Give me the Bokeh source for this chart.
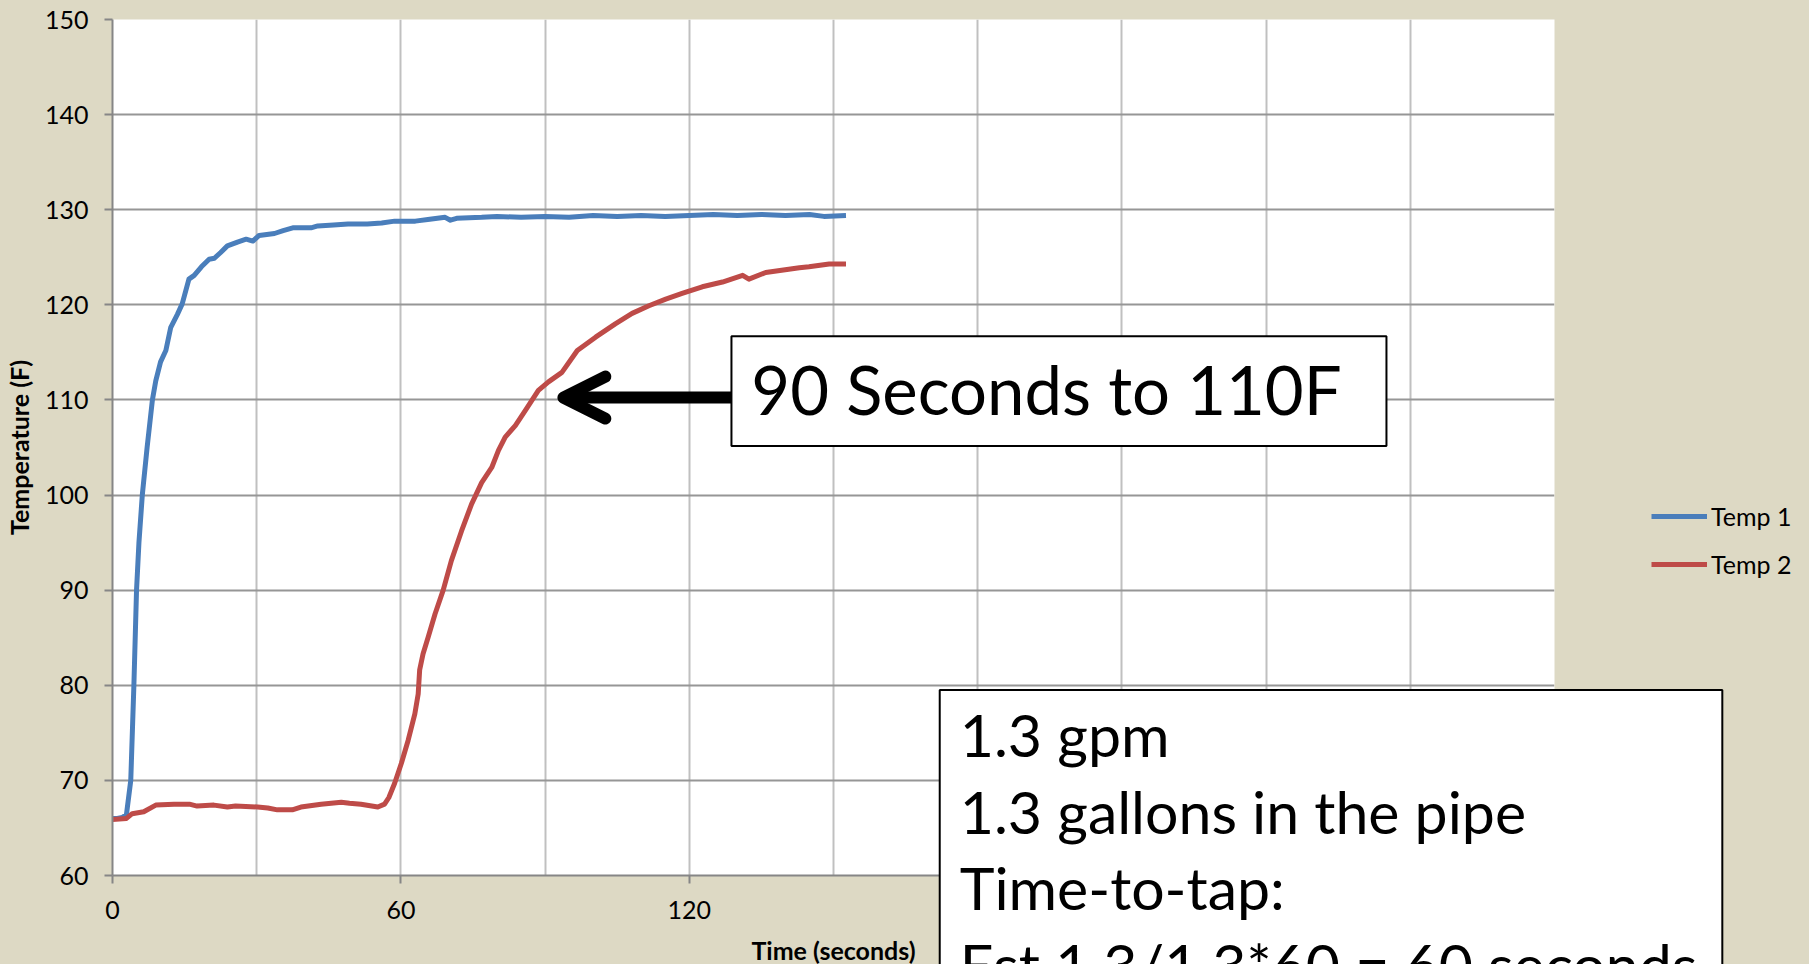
from bokeh.plotting import figure
from bokeh.models import (Range1d, FixedTicker, SingleIntervalTicker, Legend, LegendItem,
                          Label, BoxAnnotation, Arrow, OpenHead, GlobalInlineStyleSheet)
from bokeh.embed import file_html
from bokeh.resources import INLINE

# ---------------- data ----------------
t1 = [0, 1, 2, 2.9, 3.8, 4.45, 5.0, 5.5, 6.2, 7.2, 8.3, 9.0, 10.0, 11.1, 12.1, 13.5, 14.5,
      15.9, 17.0, 18.5, 20.1, 21.2, 22.5, 23.9, 26.0, 27.8, 29.2, 30.5, 33.7, 35.5, 37.5,
      41.3, 42.7, 46, 49, 53, 56, 58.7, 63, 66, 69.2, 70.3, 71.6, 76.8, 80, 85, 90, 95,
      100, 105, 110, 115, 120, 125, 130, 135, 140, 145, 148, 152.6]
temp1 = [66.0, 66.0, 66.1, 66.4, 70, 80, 90, 95, 100, 105, 110, 112, 114, 115.2, 117.6, 119,
         120.1, 122.7, 123.1, 124, 124.8, 124.9, 125.5, 126.2, 126.6, 126.9, 126.7, 127.3,
         127.5, 127.8, 128.1, 128.1, 128.3, 128.4, 128.5, 128.5, 128.6, 128.8, 128.8, 129.0,
         129.2, 128.9, 129.1, 129.2, 129.3, 129.2, 129.3, 129.2, 129.4, 129.3, 129.4, 129.3,
         129.4, 129.5, 129.4, 129.5, 129.4, 129.5, 129.3, 129.4]

t2 = [0, 2.9, 4.1, 6.5, 9, 12.8, 16, 17.6, 21.1, 23.9, 25.6, 30.2, 32.3, 34.3, 37.4, 39.2,
      43.4, 47.6, 49.3, 51.7, 55.2, 56.6, 57.5, 58.7, 60.1, 61.5, 62.9, 63.6, 63.9, 64.6,
      65.7, 67.1, 68.8, 70.5, 72.6, 74.7, 76.8, 78.9, 80.3, 81.7, 83.8, 85.9, 88.6, 90.7,
      93.5, 96.7, 100.5, 104.6, 108.1, 111.6, 115.1, 118.5, 122.7, 126.9, 131.1, 132.4,
      135.9, 142.9, 144.9, 149.1, 152.6]
temp2 = [65.9, 66.0, 66.5, 66.7, 67.4, 67.5, 67.5, 67.3, 67.4, 67.2, 67.3, 67.2, 67.1, 66.9,
         66.9, 67.2, 67.5, 67.7, 67.6, 67.5, 67.2, 67.5, 68.2, 69.7, 71.8, 74.2, 77, 79.1,
         81.6, 83.3, 85.1, 87.5, 90, 93.1, 96.2, 99.05, 101.3, 102.9, 104.7, 106.1, 107.3,
         108.9, 111, 111.9, 112.9, 115.2, 116.6, 118, 119.1, 119.9, 120.6, 121.2, 121.9,
         122.4, 123.1, 122.7, 123.4, 123.9, 124, 124.3, 124.3]

series_names = ["Temp 1", "Temp 2"]
x_ticks = [0, 60, 120, 180, 240, 300]
y_ticks = [60, 70, 80, 90, 100, 110, 120, 130, 140, 150]

note1 = "90 Seconds to 110F"
note2_lines = ["1.3 gpm", "1.3 gallons in the pipe", "Time-to-tap:",
               "Est 1.3/1.3*60 = 60 seconds"]

# ---------------- styling ----------------
BG = "#DDD9C4"
BLUE = "#4A7EBB"
RED = "#BE4B48"
FONT = "Lato"
SMALL = "25px"

css = GlobalInlineStyleSheet(css="html, body {margin:0; padding:0; overflow:hidden; background:#DDD9C4;}")

p = figure(frame_width=1442, frame_height=856, output_backend="svg", toolbar_location=None,
           x_range=Range1d(0, 300), y_range=Range1d(60, 150),
           min_border_left=112, min_border_right=255, min_border_top=19, min_border_bottom=89,
           background_fill_color="white", border_fill_color=BG,
           outline_line_color=None, stylesheets=[css])

# axes
for ax in (p.xaxis[0], p.yaxis[0]):
    ax.axis_line_color = "#868686"
    ax.axis_line_width = 2
    ax.major_tick_line_color = "#868686"
    ax.major_tick_line_width = 2
    ax.major_tick_out = 8
    ax.major_tick_in = 0
    ax.minor_tick_line_color = None
    ax.major_label_text_font = FONT
    ax.major_label_text_font_size = SMALL
    ax.major_label_text_color = "black"
    ax.axis_label_text_font = FONT
    ax.axis_label_text_font_style = "bold"
    ax.axis_label_text_font_size = SMALL
    ax.axis_label_text_color = "black"

p.xaxis.ticker = FixedTicker(ticks=x_ticks)
p.yaxis.ticker = FixedTicker(ticks=y_ticks)
p.xaxis.axis_label = "Time (seconds)"
p.yaxis.axis_label = "Temperature (F)"
p.xaxis.major_label_standoff = 17
p.xaxis.axis_label_standoff = 13
p.yaxis.major_label_standoff = 16
p.yaxis.axis_label_standoff = 8

# grid
p.xgrid.ticker = SingleIntervalTicker(interval=30)
p.xgrid.grid_line_color = "#C0C0C0"
p.xgrid.grid_line_width = 2
p.ygrid.ticker = FixedTicker(ticks=y_ticks)
p.ygrid.grid_line_color = "#969696"
p.ygrid.grid_line_width = 2

# lines
r1 = p.line(t1, temp1, line_color=BLUE, line_width=5, line_join="round")
r2 = p.line(t2, temp2, line_color=RED, line_width=5, line_join="round")

legend = Legend(items=[LegendItem(label=series_names[0], renderers=[r1]),
                       LegendItem(label=series_names[1], renderers=[r2])],
                location=(97, 296), background_fill_alpha=0, border_line_color=None,
                padding=0, margin=0, spacing=18, glyph_width=56, glyph_height=20,
                label_standoff=4, label_height=20, label_text_font=FONT,
                label_text_font_size=SMALL, label_text_color="black")
p.add_layout(legend, "right")

# annotation 1: box with arrow
box1 = BoxAnnotation(left=128.77, right=265.04, top=116.69, bottom=105.16,
                     fill_color="white", fill_alpha=1, line_color="black", line_width=2,
                     line_alpha=1)
p.add_layout(box1)
p.add_layout(Label(x=132.9, y=111.2, text=note1, text_font=FONT, text_font_size="67px",
                   text_color="black", text_baseline="alphabetic", text_align="left"))
p.add_layout(Arrow(x_start=128.77, y_start=110.25, x_end=93.8, y_end=110.25,
                   line_width=12, line_color="black",
                   end=OpenHead(size=42, line_width=12, line_color="black",
                                line_cap="round", line_join="round")))

# annotation 2: note box at lower right (runs off the picture)
note2 = Label(x=172.1, y=79.5, text="\n".join(note2_lines), text_font=FONT,
              text_font_size="59px", text_color="black", text_baseline="top",
              text_align="left", text_line_height=1.08,
              background_fill_color="white", background_fill_alpha=1,
              border_line_color="black", border_line_width=2,
              padding=dict(left=20, right=25, top=9, bottom=20))
p.add_layout(note2, "below")

open("out.html", "w").write(file_html(p, INLINE))
